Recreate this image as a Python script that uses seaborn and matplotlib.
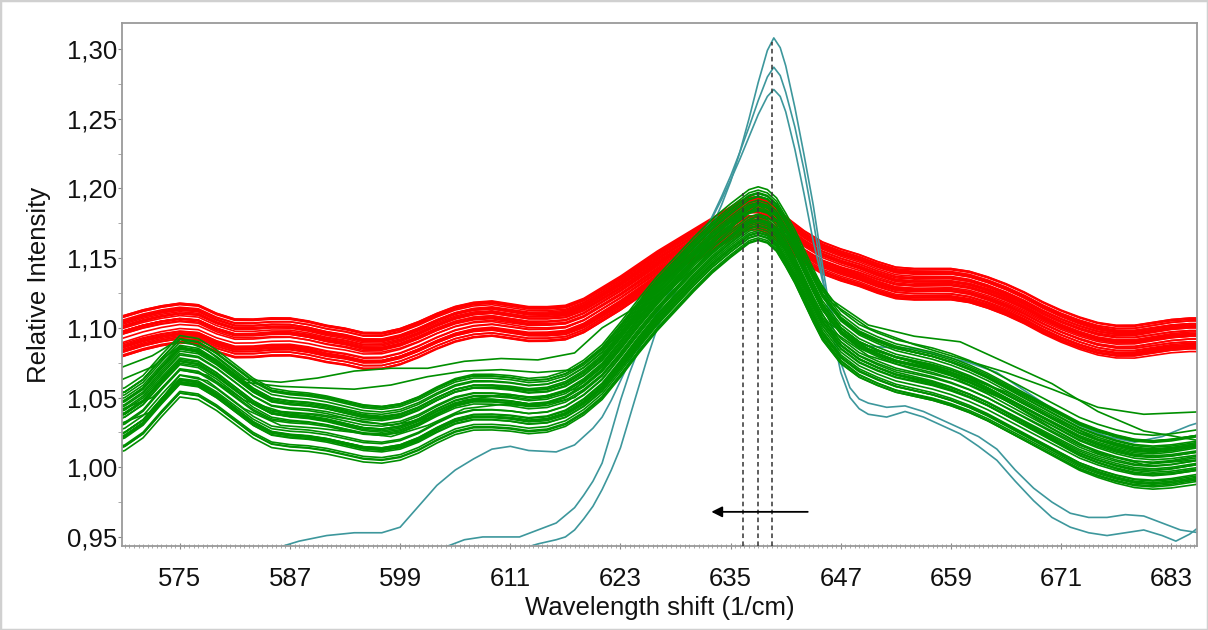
import numpy as np
import pandas as pd
import matplotlib
matplotlib.use("Agg")
import matplotlib.pyplot as plt
import seaborn as sns
from matplotlib.ticker import MultipleLocator, FuncFormatter

# ---------------------------------------------------------------- data
# shared wavenumber grid of the two spectral bands (1/cm)
BAND_X = [568, 569, 571, 573, 575, 577, 579, 581, 583, 585,
          587, 589, 591, 593, 595, 597, 599, 601, 603, 605,
          607, 609, 611, 613, 615, 617, 619, 621, 623, 625,
          627, 629, 631, 633, 635, 636, 637, 638, 639, 640,
          641, 642, 643, 644, 645, 647, 649, 651, 653, 655,
          657, 659, 661, 663, 665, 667, 669, 671, 673, 675,
          677, 679, 681, 683, 685, 687]

# mean profile of the red group
RED_BASE = [1.093, 1.095, 1.099, 1.102, 1.104, 1.103, 1.097, 1.093, 1.093, 1.094,
            1.094, 1.092, 1.089, 1.087, 1.084, 1.084, 1.087, 1.092, 1.098, 1.103,
            1.106, 1.107, 1.105, 1.103, 1.103, 1.104, 1.109, 1.117, 1.125, 1.134,
            1.143, 1.151, 1.159, 1.167, 1.175, 1.179, 1.182, 1.182, 1.179, 1.174,
            1.168, 1.163, 1.158, 1.154, 1.150, 1.145, 1.141, 1.136, 1.132, 1.131,
            1.131, 1.131, 1.129, 1.125, 1.120, 1.114, 1.107, 1.101, 1.096, 1.092,
            1.090, 1.090, 1.092, 1.094, 1.095, 1.095]

# mean profile of the green group
GREEN_BASE = [1.034, 1.036, 1.045, 1.060, 1.074, 1.072, 1.064, 1.054, 1.044, 1.037,
              1.035, 1.034, 1.032, 1.029, 1.026, 1.025, 1.027, 1.032, 1.039, 1.045,
              1.048, 1.048, 1.047, 1.045, 1.046, 1.050, 1.058, 1.069, 1.085, 1.102,
              1.118, 1.132, 1.146, 1.159, 1.170, 1.175, 1.180, 1.182, 1.180, 1.174,
              1.163, 1.151, 1.137, 1.123, 1.110, 1.093, 1.083, 1.077, 1.072, 1.069,
              1.066, 1.062, 1.057, 1.051, 1.044, 1.037, 1.030, 1.023, 1.016, 1.011,
              1.007, 1.004, 1.003, 1.004, 1.006, 1.008]

# individual spectra: level offset and left-to-right tilt relative to the mean
RED_OFFSET = [-0.012, 0.010, -0.005, 0.003, 0.011, -0.009, 0.006, -0.002, 0.008, -0.011,
              0.004, -0.007, 0.001, 0.012, -0.003, 0.005, -0.008, 0.009, -0.001, 0.002,
              -0.010, 0.007, -0.006, 0.010, 0.000, -0.009, 0.004, -0.004, 0.002, -0.007,
              0.009, -0.003, 0.006, -0.012, 0.011, -0.006, 0.003, -0.010, 0.007, -0.001]
RED_TILT = [0.003, -0.004, 0.005, -0.002, 0.001, -0.003, 0.004, -0.005, 0.002, 0.004,
            -0.004, 0.001, -0.002, -0.001, 0.005, -0.005, 0.000, 0.003, -0.004, 0.004,
            0.002, -0.002, 0.003, -0.003, 0.005, -0.001, 0.002, -0.005, 0.001, 0.004,
            -0.002, 0.004, -0.003, 0.002, -0.003, 0.005, -0.004, 0.002, 0.001, -0.004]

GREEN_OFFSET = [-0.020, 0.016, -0.005, 0.008, 0.019, -0.015, 0.011, -0.001, 0.014, -0.018,
                0.004, -0.011, 0.000, 0.017, -0.008, 0.009, -0.014, 0.012, -0.003, 0.005,
                -0.019, 0.010, -0.009, 0.015, 0.001, -0.012, 0.006, -0.004, 0.003, -0.010,
                0.013, -0.016, 0.007, -0.006, 0.002, -0.013]
GREEN_TILT = [0.004, -0.005, 0.006, -0.003, 0.001, -0.004, 0.005, -0.006, 0.002, 0.003,
              -0.004, 0.002, -0.002, -0.001, 0.006, -0.005, 0.000, 0.003, -0.006, 0.005,
              0.002, -0.002, 0.004, -0.003, 0.006, -0.001, 0.003, -0.004, 0.001, 0.005,
              -0.003, 0.004, -0.005, 0.002, 0.006, -0.002]

# green spectra that leave the main bundle
OUT_X = [568, 572, 575, 578, 582, 586, 590, 594, 598, 602,
         606, 610, 614, 618, 621, 624, 627, 630, 633, 636,
         638, 640, 642, 644, 646, 650, 655, 660, 665, 670,
         675, 680, 687]
GREEN_OUT_1 = [1.070, 1.080, 1.092, 1.084, 1.063, 1.061, 1.064, 1.069, 1.071, 1.071,
               1.076, 1.078, 1.077, 1.082, 1.100, 1.112, 1.128, 1.146, 1.163, 1.180,
               1.190, 1.182, 1.158, 1.128, 1.102, 1.085, 1.075, 1.066, 1.054, 1.036,
               1.020, 1.012, 1.016]
GREEN_OUT_2 = [1.061, 1.072, 1.087, 1.080, 1.061, 1.058, 1.057, 1.056, 1.059, 1.065,
               1.069, 1.070, 1.068, 1.070, 1.085, 1.102, 1.120, 1.137, 1.154, 1.172,
               1.181, 1.176, 1.150, 1.122, 1.098, 1.080, 1.070, 1.062, 1.048, 1.028,
               1.010, 1.002, 1.006]
GREEN_OUT_3 = [1.030, 1.040, 1.066, 1.062, 1.042, 1.030, 1.028, 1.025, 1.022, 1.030,
               1.042, 1.045, 1.044, 1.050, 1.066, 1.088, 1.112, 1.135, 1.157, 1.178,
               1.188, 1.180, 1.160, 1.138, 1.118, 1.100, 1.088, 1.078, 1.068, 1.056,
               1.043, 1.038, 1.040]
GREEN_OUT_4 = [1.040, 1.050, 1.070, 1.066, 1.048, 1.040, 1.038, 1.034, 1.030, 1.035,
               1.048, 1.052, 1.050, 1.056, 1.072, 1.094, 1.117, 1.140, 1.160, 1.180,
               1.186, 1.181, 1.162, 1.140, 1.120, 1.102, 1.094, 1.090, 1.075, 1.060,
               1.040, 1.026, 1.018]

# three reference spectra with the sharp band
TEAL_1_X = [612, 614, 616, 617, 618, 619, 620, 621, 622, 623,
            624, 625, 626, 627, 628, 629, 630, 631, 632, 633,
            634, 635, 636, 637, 638, 639, 639.7, 640.4, 641, 642,
            643, 644, 645, 646, 647, 648, 649, 650, 652, 654,
            656, 658, 660, 662, 664, 666, 668, 670, 672, 674,
            676, 678, 680, 682, 684, 687]
TEAL_1_Y = [0.941, 0.945, 0.948, 0.950, 0.955, 0.963, 0.972, 0.984, 0.998, 1.014,
            1.036, 1.058, 1.080, 1.100, 1.114, 1.126, 1.137, 1.148, 1.160, 1.173,
            1.188, 1.205, 1.226, 1.250, 1.276, 1.299, 1.308, 1.301, 1.288, 1.258,
            1.224, 1.188, 1.145, 1.105, 1.075, 1.057, 1.049, 1.046, 1.043, 1.044,
            1.040, 1.034, 1.028, 1.022, 1.013, 0.998, 0.985, 0.975, 0.967, 0.964,
            0.964, 0.966, 0.965, 0.960, 0.955, 0.952]

TEAL_2_X = [604, 606, 608, 610, 612, 614, 616, 618, 619, 620,
            621, 622, 623, 624, 625, 626, 627, 628, 629, 630,
            631, 632, 633, 634, 635, 636, 637, 638, 639, 639.7,
            640.4, 641, 642, 643, 644, 645, 646, 647, 648, 649,
            650, 652, 654, 656, 658, 660, 662, 664, 666, 668,
            670, 672, 674, 676, 678, 680, 682, 683.5, 685, 687]
TEAL_2_Y = [0.943, 0.948, 0.950, 0.950, 0.950, 0.955, 0.960, 0.971, 0.980, 0.990,
            1.003, 1.025, 1.048, 1.068, 1.085, 1.099, 1.110, 1.121, 1.132, 1.143,
            1.155, 1.167, 1.180, 1.194, 1.209, 1.226, 1.244, 1.263, 1.280, 1.287,
            1.281, 1.269, 1.244, 1.213, 1.177, 1.137, 1.099, 1.068, 1.050, 1.042,
            1.038, 1.036, 1.040, 1.036, 1.030, 1.024, 1.015, 1.005, 0.990, 0.976,
            0.964, 0.957, 0.953, 0.951, 0.953, 0.955, 0.951, 0.947, 0.952, 0.962]

TEAL_3_X = [586, 588, 591, 594, 597, 599, 601, 603, 605, 607,
            609, 611, 613, 616, 618, 620, 621, 622, 623, 624,
            625, 626, 627, 628, 629, 630, 631, 632, 633, 634,
            635, 636, 637, 638, 639, 639.7, 640.4, 641, 642, 643,
            644, 645, 646, 647, 648, 650, 652, 655, 658, 661,
            664, 667, 670, 673, 676, 679, 682, 685, 687]
TEAL_3_Y = [0.943, 0.947, 0.951, 0.953, 0.953, 0.957, 0.972, 0.987, 0.998, 1.006,
            1.013, 1.015, 1.012, 1.011, 1.016, 1.028, 1.036, 1.048, 1.062, 1.076,
            1.089, 1.100, 1.111, 1.122, 1.133, 1.144, 1.155, 1.167, 1.179, 1.192,
            1.206, 1.221, 1.237, 1.253, 1.266, 1.271, 1.266, 1.255, 1.228, 1.196,
            1.162, 1.134, 1.112, 1.098, 1.091, 1.087, 1.086, 1.085, 1.080, 1.075,
            1.068, 1.055, 1.042, 1.030, 1.022, 1.018, 1.022, 1.030, 1.034]

# band maxima of the three groups and the shift arrow
PEAK_X = [636.3, 638.0, 639.5]
PEAK_TOP = [1.197, 1.198, 1.305]
ARROW_START = 643.4
ARROW_END = 632.9
ARROW_Y = 0.968

X_TICKS = [575, 587, 599, 611, 623, 635, 647, 659, 671, 683]
Y_TICKS = [0.95, 1.00, 1.05, 1.10, 1.15, 1.20, 1.25, 1.30]
X_LIMITS = (568.7, 685.8)
Y_LIMITS = (0.9435, 1.3187)

# ---------------------------------------------------------------- table
frames = []
bx = np.array(BAND_X, dtype=float)
t = (bx - 627.0) / 58.0


def add(xv, yv, group, name):
    frames.append(pd.DataFrame({"shift": xv, "intensity": yv,
                                "group": group, "curve": name}))


for i, (o, s) in enumerate(zip(RED_OFFSET, RED_TILT)):
    add(bx, np.array(RED_BASE) + o + s * t, "red", f"r{i}")
for i, (o, s) in enumerate(zip(GREEN_OFFSET, GREEN_TILT)):
    add(bx, np.array(GREEN_BASE) + o + s * t, "green", f"g{i}")
for i, yv in enumerate([GREEN_OUT_1, GREEN_OUT_2, GREEN_OUT_3, GREEN_OUT_4]):
    add(OUT_X, yv, "green", f"go{i}")
for i, (xv, yv) in enumerate([(TEAL_1_X, TEAL_1_Y), (TEAL_2_X, TEAL_2_Y),
                              (TEAL_3_X, TEAL_3_Y)]):
    add(xv, yv, "teal", f"t{i}")
df = pd.concat(frames, ignore_index=True)

# ---------------------------------------------------------------- figure
sns.set_theme(style="white")
plt.rcParams["font.family"] = ["Liberation Sans", "DejaVu Sans"]

fig = plt.figure(figsize=(12.08, 6.30), dpi=100)
ax = fig.add_axes([122 / 1208, 1 - 546 / 630, 1075 / 1208, 523 / 630])

palette = {"red": "#ff0000", "teal": "#3d979c", "green": "#008f00"}
sns.lineplot(data=df, x="shift", y="intensity", hue="group", units="curve",
             estimator=None, sort=False, hue_order=["red", "teal", "green"],
             palette=palette, linewidth=1.2, legend=False, ax=ax)

for px, top in zip(PEAK_X, PEAK_TOP):
    ax.plot([px, px], [Y_LIMITS[0], top], color="#333333", lw=1.1,
            linestyle=(0, (3, 2.2)), zorder=5)

ax.annotate("", xy=(ARROW_END, ARROW_Y), xytext=(ARROW_START, ARROW_Y),
            arrowprops=dict(arrowstyle="-|>", color="black", lw=1.3,
                            mutation_scale=16, shrinkA=0, shrinkB=0),
            zorder=6)

ax.set_xlim(*X_LIMITS)
ax.set_ylim(*Y_LIMITS)
ax.set_xticks(X_TICKS)
ax.set_yticks(Y_TICKS)
ax.xaxis.set_minor_locator(MultipleLocator(0.5))
ax.yaxis.set_minor_locator(MultipleLocator(0.025))
ax.yaxis.set_major_formatter(FuncFormatter(lambda v, p: f"{v:.2f}".replace(".", ",")))
ax.xaxis.set_major_formatter(FuncFormatter(lambda v, p: f"{v:.0f}"))

ax.tick_params(axis="x", which="major", direction="inout", length=4, width=0.8,
               color="#888888", pad=13, labelsize=18.5, labelcolor="#111111",
               bottom=True)
ax.tick_params(axis="x", which="minor", direction="inout", length=3.5, width=0.6,
               color="#999999", bottom=True)
ax.tick_params(axis="y", which="major", direction="out", length=3, width=0.8,
               color="#888888", pad=0.5, labelsize=18.5, labelcolor="#111111",
               left=True)
ax.tick_params(axis="y", which="minor", direction="out", length=3, width=0.6,
               color="#999999", left=True)

for sp in ax.spines.values():
    sp.set_color("#9a9a9a")
    sp.set_linewidth(1.3)

ax.set_xlabel("Wavelength shift (1/cm)", fontsize=18.5, color="#111111")
ax.set_ylabel("Relative Intensity", fontsize=18.5, color="#111111")
ax.xaxis.set_label_coords(0.5, -0.095)
ax.yaxis.set_label_coords(-0.066, 0.5)

fig.add_artist(plt.Rectangle((0, 0), 1, 1, transform=fig.transFigure,
                             fill=False, ec="#d0d0d0", lw=2.5))

fig.savefig("out.png", dpi=100)
